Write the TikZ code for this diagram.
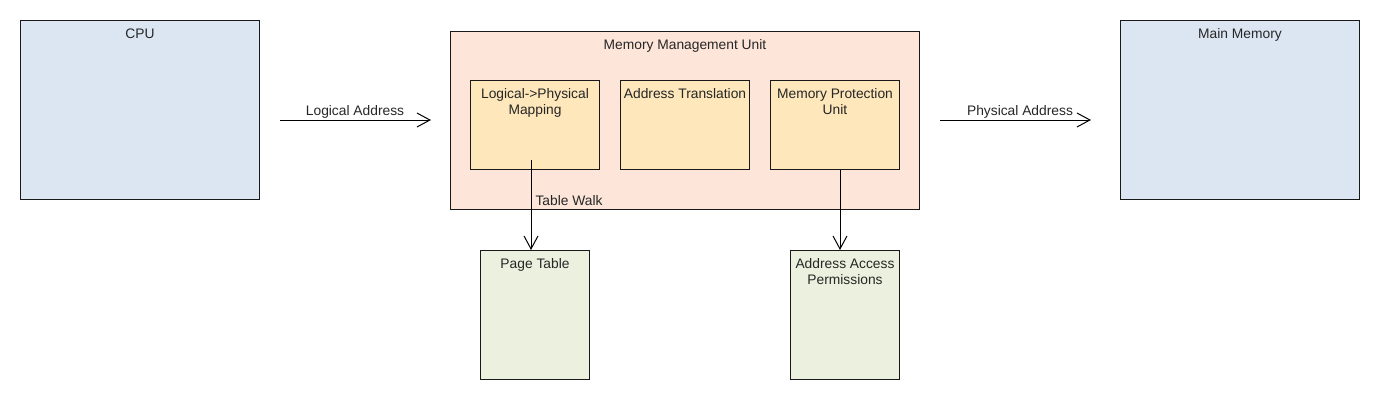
\documentclass[tikz,border=0pt]{standalone}
\usepackage{fontspec}
\setmainfont{Liberation Sans}
\usetikzlibrary{arrows.meta}
\definecolor{cpublue}{HTML}{DCE6F2}
\definecolor{mmupeach}{HTML}{FDE5D9}
\definecolor{unitgold}{HTML}{FDE7BB}
\definecolor{tablegreen}{HTML}{EBF1DE}
\begin{document}
\begin{tikzpicture}[x=1pt, y=-1pt, line width=1pt,
  every node/.style = {font=\fontsize{13.8}{16}\selectfont, text=black!85},
  box/.style = {draw=black!90, rectangle, inner sep=0pt},
  top/.style = {label={[anchor=north, inner sep=8pt, align=center]north:#1}},
  arr/.style = {-{Straight Barb[length=13pt, width=14pt, line width=1pt]}}]
\useasboundingbox (0,0) rectangle (1380,400);

\node[box, fill=cpublue, minimum width=239pt, minimum height=179pt, top=CPU] (cpu) at (140,110) {};
\node[box, fill=mmupeach, minimum width=469pt, minimum height=178pt, top=Memory Management Unit] (mmu) at (685,120) {};
\node[box, fill=cpublue, minimum width=239pt, minimum height=179pt, top=Main Memory] (main) at (1240,110) {};

\node[box, fill=unitgold, minimum width=129pt, minimum height=89pt, top={Logical->Physical\\Mapping}] (lpm) at (535,125) {};
\node[box, fill=unitgold, minimum width=129pt, minimum height=89pt, top=Address Translation] (at) at (685,125) {};
\node[box, fill=unitgold, minimum width=129pt, minimum height=89pt, top={Memory Protection\\Unit}] (mpu) at (835,125) {};

\node[box, fill=tablegreen, minimum width=109pt, minimum height=129pt, top=Page Table] (pt) at (535,315) {};
\node[box, fill=tablegreen, minimum width=109pt, minimum height=129pt, top={Address Access\\Permissions}] (aap) at (845,315) {};

\draw[arr, shorten <=20pt, shorten >=19pt] (cpu.east |- mmu.west) -- node[above, inner sep=1pt] {Logical Address} (mmu.west);
\draw[arr, shorten <=20pt, shorten >=29pt] (mmu.east) -- node[above, inner sep=1pt] {Physical Address} (mmu.east -| main.west);
\draw[arr] ([xshift=-4pt, yshift=10pt]lpm.south) -- node[pos=0.45, right, inner sep=4pt] {Table Walk} ([xshift=-4pt]pt.north);
\draw[arr] ([xshift=5pt]mpu.south) -- ([xshift=5pt]mpu.south |- aap.north);
\end{tikzpicture}
\end{document}
